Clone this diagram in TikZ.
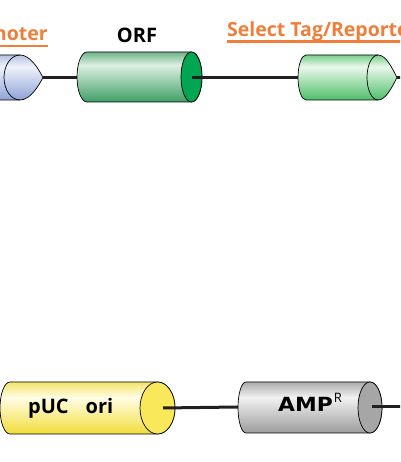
\documentclass[tikz,border=0pt]{standalone}
\usepackage{fontspec}
\setmainfont{Open Sans}
\newfontfamily\ampfont{DejaVu Sans}
\usetikzlibrary{positioning}

\definecolor{linkblack}{HTML}{231F20}
\definecolor{tagorange}{HTML}{EF7E3A}
% body colours: bottom, light band, top
\definecolor{promlo}{HTML}{8EA2D6}\definecolor{promhi}{HTML}{EEF2FA}\definecolor{promtop}{HTML}{B4C2E4}
\definecolor{orflo}{HTML}{3F9E66}\definecolor{orfhi}{HTML}{DDF0E2}\definecolor{orftop}{HTML}{6DB488}
\definecolor{orfend}{HTML}{00A651}
\definecolor{taglo}{HTML}{4DBE68}\definecolor{taghi}{HTML}{EAF8EC}\definecolor{tagtop}{HTML}{79CF8B}
\definecolor{orilo}{HTML}{F2DC3A}\definecolor{orihi}{HTML}{FFFDE6}\definecolor{oritop}{HTML}{F4E36A}
\definecolor{oriend}{HTML}{F9E85A}
\definecolor{amplo}{HTML}{9C9C9C}\definecolor{amphi}{HTML}{F2F2F2}\definecolor{amptop}{HTML}{ABABAB}
\definecolor{ampend}{HTML}{A6A6A6}

\pgfdeclareverticalshading{promshade}{100bp}{color(0bp)=(promlo); color(25bp)=(promlo); color(62bp)=(promhi); color(75bp)=(promtop); color(100bp)=(promtop)}
\pgfdeclareverticalshading{orfshade}{100bp}{color(0bp)=(orflo); color(25bp)=(orflo); color(62bp)=(orfhi); color(75bp)=(orftop); color(100bp)=(orftop)}
\pgfdeclareverticalshading{tagshade}{100bp}{color(0bp)=(taglo); color(25bp)=(taglo); color(62bp)=(taghi); color(75bp)=(tagtop); color(100bp)=(tagtop)}
\pgfdeclareverticalshading{orishade}{100bp}{color(0bp)=(orilo); color(25bp)=(orilo); color(60bp)=(orihi); color(75bp)=(oritop); color(100bp)=(oritop)}
\pgfdeclareverticalshading{ampshade}{100bp}{color(0bp)=(amplo); color(25bp)=(amplo); color(60bp)=(amphi); color(75bp)=(amptop); color(100bp)=(amptop)}

\tikzset{
	part/.style={draw=black, line width=0.7pt},
	link/.style={draw=linkblack, line width=3pt},
	partlabel/.style={inner sep=0pt, font=\bfseries\fontsize{20}{24}\selectfont},
	featlabel/.style={inner sep=0pt, text=tagorange, font=\bfseries\fontsize{19.5}{22}\selectfont},
	featline/.style={tagorange, line width=2.2pt},
}

\begin{document}
\begin{tikzpicture}[x=1pt, y=1pt]
	\useasboundingbox (0,0) rectangle (400,462);
	\clip (0,0) rectangle (400,462);

	% top row: promoter, ORF, select tag
	\shade[part, shading=promshade] (-20,407) -- (20,407) .. controls (30,407) and (38,394) .. (43,384.5)
		.. controls (38,375) and (30,362) .. (20,362) -- (-20,362) -- cycle;
	\draw[part] (20,407) arc[start angle=90, end angle=270, x radius=16, y radius=22.5];
	\coordinate (prom-tip) at (43,384.5);

	\shade[part, shading=orfshade] (191.5,410) -- (87,410) arc[start angle=90, end angle=270, x radius=10, y radius=25]
		-- (191.5,360) arc[start angle=-90, end angle=90, x radius=10.5, y radius=25] -- cycle;
	\filldraw[part, fill=orfend] (191.5,385) ellipse[x radius=10.5, y radius=25];
	\coordinate (orf-in) at (77,384.5);
	\coordinate (orf-out) at (192,384.5);

	\shade[part, shading=tagshade] (378,407) -- (306,407) arc[start angle=90, end angle=270, x radius=8, y radius=22.5]
		-- (378,362) .. controls (386,362) and (392,375) .. (397,384.5) .. controls (392,394) and (386,407) .. (378,407);
	\draw[part] (378,407) arc[start angle=90, end angle=270, x radius=11, y radius=22.5];
	\coordinate (tag-in) at (298,384.5);
	\coordinate (tag-tip) at (397,384.5);
	\coordinate (top-edge) at (401,384.5);

	% bottom row: pUC ori, AMP
	\shade[part, shading=orishade] (157.5,80) -- (10,80) arc[start angle=90, end angle=270, x radius=10, y radius=26]
		-- (157.5,28) arc[start angle=-90, end angle=90, x radius=17.5, y radius=26] -- cycle;
	\filldraw[part, fill=oriend] (157.5,54) ellipse[x radius=17.5, y radius=26];
	\coordinate (ori-out) at (163,54);

	\shade[part, shading=ampshade] (370,80) -- (246,80) arc[start angle=90, end angle=270, x radius=8, y radius=25.5]
		-- (370,29) arc[start angle=-90, end angle=90, x radius=12, y radius=25.5] -- cycle;
	\filldraw[part, fill=ampend] (370,54.5) ellipse[x radius=12, y radius=25.5];
	\coordinate (amp-in) at (238,55);
	\coordinate (amp-out) at (372,55.5);
	\coordinate (bot-edge) at (401,55.5);

	% connectors
	\draw[link] (prom-tip) -- (orf-in);
	\draw[link] (orf-out) -- (tag-in);
	\draw[link] (tag-tip) -- (top-edge);
	\draw[link] (ori-out) -- (amp-in);
	\draw[link, line cap=butt] (amp-out) -- (bot-edge);

	% labels
	\node[featlabel, anchor=base east] (prom) at (48,421) {Promoter};
	\node[partlabel, anchor=base] (orf) at (137,419) {ORF};
	\node[featlabel, anchor=base west] (tag) at (227,425.5) {Select Tag/Reporter};
	\draw[featline] ([yshift=-5pt]prom.base west) -- ([yshift=-5pt]prom.base east);
	\draw[featline] ([yshift=-5pt]tag.base west) -- ([yshift=-5pt]tag.base east);

	\node[partlabel, anchor=base west] (ori) at (28,48.5) {pUC\hspace{0.85em}ori};
	\node[partlabel, anchor=base west] (amp) at (278,50) {\scalebox{1.12}[1]{\ampfont\bfseries\fontsize{19.5}{22}\selectfont AMP}\hspace{1pt}\raisebox{9.5pt}{\fontsize{13}{13}\selectfont\mdseries R}};
\end{tikzpicture}
\end{document}
